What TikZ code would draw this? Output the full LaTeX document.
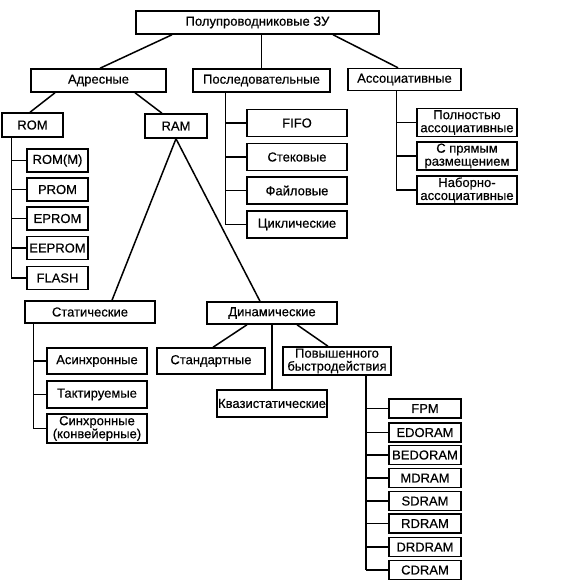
\documentclass[tikz,border=0pt]{standalone}
\usepackage{fontspec}
\setmainfont{Liberation Sans}
\newfontfamily\boxfont[FakeBold=0.5]{Liberation Sans}
\tikzset{
  box/.style = {
    draw, line width=1.5pt, inner sep=0pt, align=center,
    font=\boxfont\fontsize{13}{13}\selectfont
  },
  link/.style = {line width=1.5pt}
}
\tikzset{>=latex}

\begin{document}
\begin{tikzpicture}[x=1pt,y=-1pt]
  \useasboundingbox (0,0) rectangle (573,587);
  % 
  \node[box,minimum width=243,minimum height=23] (zu) at (257.5,22.5) {Полупроводниковые ЗУ};
  \node[box,minimum width=135,minimum height=23] (adr) at (98.5,80.5) {Адресные};
  \node[box,minimum width=137,minimum height=23] (posl) at (261.5,80.5) {Последовательные};
  \node[box,minimum width=113,minimum height=22] (assoc) at (404.5,79.5) {Ассоциативные};
  \draw[link] ([xshift=-85.5]zu.south) -- ([xshift=1.5]adr.north);
  \draw[link] (posl.north |- zu.south) -- (posl.north);
  \draw[link] ([xshift=75.5]zu.south) -- ([xshift=-6.5]assoc.north);
  % 
  \node[box,minimum width=61,minimum height=24] (rom) at (32.5,125) {ROM};
  \node[box,minimum width=62,minimum height=24] (ram) at (176,126) {RAM};
  \draw[link] ([xshift=-43.5]adr.south) -- ([xshift=-2.5]rom.north);
  \draw[link] ([xshift=36.5]adr.south) -- ([xshift=-14]ram.north);
  % ROM
  \foreach \i/\t/\y in {1/ROM(M)/160.5,2/PROM/189.5,3/EPROM/218.5,4/EEPROM/248,5/FLASH/278}
    \node[box,minimum width=61,minimum height=23] (rom\i) at (57.5,\y) {\t};
  \coordinate (romt) at ([xshift=10]rom.south west);
  \draw[link] (romt) -- (romt |- rom5.west);
  \foreach \i in {1,...,5}
    \draw[link] (romt |- rom\i.west) -- (rom\i.west);
  % Posledovatelnye
  \foreach \i/\t/\y in {1/FIFO/123,2/Стековые/157,3/Файловые/190.5,4/Циклические/224.5}
    \node[box,minimum width=100,minimum height=27] (posl\i) at (297,\y) {\t};
  \coordinate (poslt) at ([xshift=33]posl.south west);
  \draw[link] (poslt) -- (poslt |- posl4.west);
  \foreach \i in {1,...,4}
    \draw[link] (poslt |- posl\i.west) -- (posl\i.west);
  % Associativnye
  \foreach \i/\t/\y in {1/{Полностью\\ассоциативные}/122.5,2/{С прямым\\размещением}/156,3/{Наборно-\\ассоциативные}/190}
    \node[box,minimum width=100,minimum height=28] (assoc\i) at (467,\y) {\t};
  \coordinate (assoct) at ([xshift=49]assoc.south west);
  \draw[link] (assoct) -- (assoct |- assoc3.west);
  \foreach \i in {1,...,3}
    \draw[link] (assoct |- assoc\i.west) -- (assoc\i.west);
  % RAM
  \node[box,minimum width=130,minimum height=22] (stat) at (90,312) {Статические};
  \node[box,minimum width=130,minimum height=22] (din) at (272,313) {Динамические};
  \draw[link] (ram.south) -- ([xshift=22]stat.north);
  \draw[link] (ram.south) -- ([xshift=-12]din.north);
  % 
  \foreach \i/\t/\y/\h in {1/Асинхронные/361/26,2/Тактируемые/394.5/27,3/{Синхронные\\(конвейерные)}/428.5/29}
    \node[box,minimum width=100,minimum height=\h] (stat\i) at (97,\y) {\t};
  \coordinate (statt) at ([xshift=9]stat.south west);
  \draw[link] (statt) -- (statt |- stat3.west);
  \foreach \i in {1,...,3}
    \draw[link] (statt |- stat\i.west) -- (stat\i.west);
  % 
  \node[box,minimum width=108,minimum height=26] (std) at (211,361) {Стандартные};
  \node[box,minimum width=110,minimum height=27] (kvazi) at (272,403.5) {Квазистатические};
  \node[box,minimum width=108,minimum height=28] (povysh) at (337,361) {Повышенного\\быстродействия};
  \draw[link] ([xshift=-25]din.south) -- ([xshift=2]std.north);
  \draw[link] (din.south) -- (kvazi.north);
  \draw[link] ([xshift=25]din.south) -- ([xshift=-9]povysh.north);
  % DRAM
  \foreach \i/\t/\y in {1/FPM/408.5,2/EDORAM/432.5,3/BEDORAM/455,4/MDRAM/478,5/SDRAM/501,6/RDRAM/523.5,7/DRDRAM/547,8/CDRAM/570}
    \node[box,minimum width=72,minimum height=19] (dram\i) at (425,\y) {\t};
  \coordinate (dramt) at ([xshift=29]povysh.south);
  \draw[link] (dramt) -- (dramt |- dram8.west);
  \foreach \i in {1,...,8}
    \draw[link] (dramt |- dram\i.west) -- (dram\i.west);
\end{tikzpicture}
\end{document}
